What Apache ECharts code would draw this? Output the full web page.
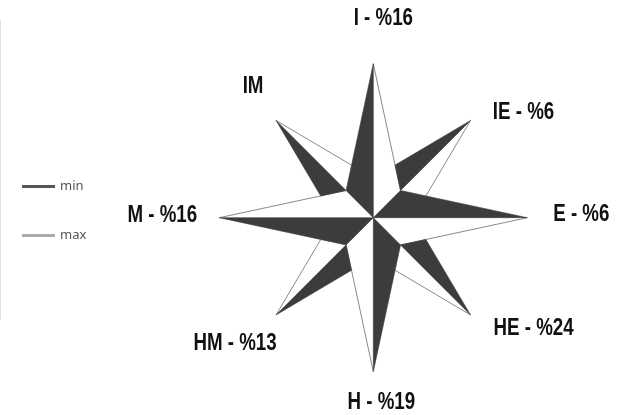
<!DOCTYPE html>
<html>
<head>
<meta charset="utf-8">
<script src="https://cdn.jsdelivr.net/npm/echarts@6/dist/echarts.min.js"></script>
<style>
  html, body { margin: 0; padding: 0; background: #ffffff; }
  #chart { width: 638px; height: 415px; }
</style>
</head>
<body>
<div id="chart"></div>
<script>
// Compass directions, clockwise from the top
const directions = ['I', 'IE', 'E', 'HE', 'H', 'HM', 'M', 'IM'];
// Share per direction (%); IM carries no figure
const shares = [16, 6, 6, 24, 19, 13, 16, null];
// Legend entries
const legendNames = ['min', 'max'];

// ---- rose geometry (fractions of the main arm length) ----
const SIDE_R = 0.25;   // where neighbouring arms meet
const DIAG_R = 0.893;  // length of the diagonal arms
const DARK = '#3c3c3c';

const deg = Math.PI / 180;
function rot(v, a) {
  const c = Math.cos(a * deg), s = Math.sin(a * deg);
  return [v[0] * c - v[1] * s, v[0] * s + v[1] * c];
}
function cross(a, b) { return a[0] * b[1] - a[1] * b[0]; }
// point where the segment a->b meets the ray from o along w
function meet(a, b, o, w) {
  const ab = [b[0] - a[0], b[1] - a[1]];
  const ao = [o[0] - a[0], o[1] - a[1]];
  const s = cross(ao, w) / cross(ab, w);
  return [a[0] + ab[0] * s, a[1] + ab[1] * s];
}
function armShape(api, i) {
  const c = api.coord([0, i]);
  const t = api.coord([1, i]);
  const R = Math.hypot(t[0] - c[0], t[1] - c[1]);
  const u = [(t[0] - c[0]) / R, (t[1] - c[1]) / R];
  const at = (r, phi) => { const v = rot(u, phi); return [c[0] + v[0] * r * R, c[1] + v[1] * r * R]; };
  if (i % 2 === 0) {
    const tip = at(1, 0);
    return { dark: [tip, at(SIDE_R, -45), c], light: [tip, at(SIDE_R, 45), c], edge: [tip, at(SIDE_R, 45)] };
  }
  const tip = at(DIAG_R, 0), inner = at(SIDE_R, 0);
  const pCcw = meet(at(1, -45), inner, c, rot(u, -22.5));
  const pCw = meet(at(1, 45), inner, c, rot(u, 22.5));
  return { dark: [tip, pCcw, inner], light: [tip, inner, pCw], edge: [tip, pCw] };
}

const armData = directions.map((d, i) => ({ name: d, value: [1, i] }));

// label placement relative to each arm tip (px)
const LABEL_SHIFT = {
  I: [10, -45], IE: [53, -8], E: [54, -3], HE: [63, 13],
  H: [8, 31], HM: [-41, 28], M: [-57, -2], IM: [-23, -34]
};

const chart = echarts.init(document.getElementById('chart'), null, { renderer: 'canvas' });
chart.setOption({
  backgroundColor: '#ffffff',
  animation: false,
  legend: {
    data: legendNames,
    orient: 'vertical',
    left: 17,
    top: 175,
    icon: 'rect',
    itemWidth: 33,
    itemHeight: 3,
    itemGap: 36,
    itemTextGap: 2,
    textStyle: { color: '#555', fontSize: 13, fontFamily: '"Noto Sans", sans-serif' }
  },
  polar: { center: [373.3, 217.7], radius: 154 },
  radiusAxis: { type: 'value', min: 0, max: 1, show: false },
  angleAxis: {
    type: 'category', data: directions, boundaryGap: false,
    startAngle: 90, clockwise: true, show: false
  },
  graphic: [{
    type: 'line', shape: { x1: 0.5, y1: 20, x2: 0.5, y2: 320 },
    style: { stroke: '#e2e2e2', lineWidth: 1 }, silent: true
  }],
  series: [
    {
      name: 'min', type: 'custom', coordinateSystem: 'polar',
      itemStyle: { color: '#555' },
      data: armData,
      renderItem: function (params, api) {
        const s = armShape(api, api.value(1));
        return {
          type: 'polygon', z2: 1,
          shape: { points: s.dark },
          style: { fill: DARK, stroke: DARK, lineWidth: 0.6 }
        };
      }
    },
    {
      name: 'max', type: 'custom', coordinateSystem: 'polar',
      itemStyle: { color: '#aaa' },
      data: armData,
      renderItem: function (params, api) {
        const s = armShape(api, api.value(1));
        return {
          type: 'group',
          children: [
            { type: 'polygon', shape: { points: s.light }, style: { fill: '#ffffff', stroke: null } },
            { type: 'polyline', shape: { points: s.edge }, style: { fill: null, stroke: '#8a8a8a', lineWidth: 1 } }
          ]
        };
      }
    },
    {
      name: 'labels', type: 'custom', coordinateSystem: 'polar',
      data: directions.map((d, i) => ({ name: d, value: [1, i, shares[i]] })),
      renderItem: function (params, api) {
        const i = api.value(1);
        const name = directions[i];
        const v = shares[i];
        const t = api.coord([i % 2 === 0 ? 1 : DIAG_R, i]);
        const sh = LABEL_SHIFT[name];
        return {
          type: 'text',
          x: t[0] + sh[0], y: t[1] + sh[1],
          scaleX: 0.78,
          style: {
            text: v == null ? name : name + ' - %' + v,
            font: 'bold 24px "Liberation Sans", Arial, sans-serif',
            fill: '#111', align: 'center', verticalAlign: 'middle'
          }
        };
      }
    }
  ]
});
</script>
</body>
</html>
